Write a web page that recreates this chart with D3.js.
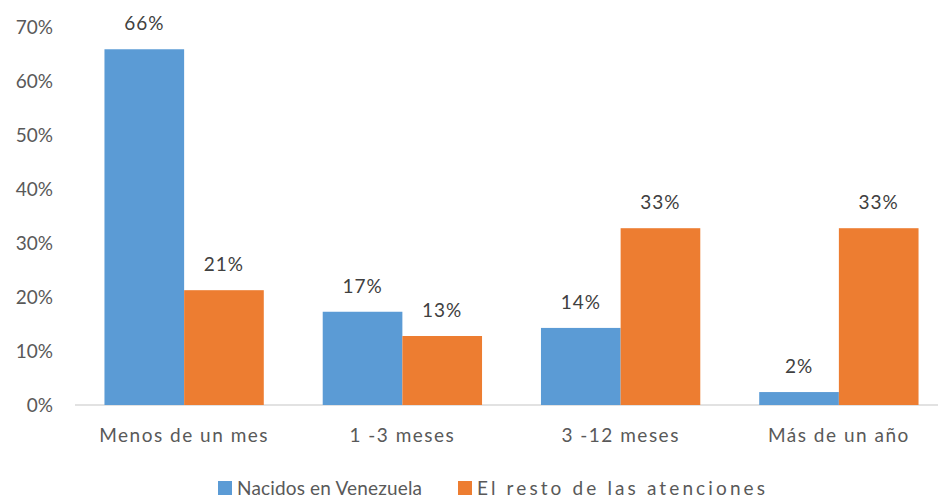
<!DOCTYPE html>
<html><head><meta charset="utf-8">
<script src="https://cdn.jsdelivr.net/npm/d3@7"></script>
<style>body{margin:0;background:#fff}svg{display:block}text{font-family:Lato,"Open Sans",sans-serif;fill:#595959}</style>
</head><body><svg id="c" width="938" height="500"></svg>
<script>
const categories = ["Menos de un mes", "1 -3 meses", "3 -12 meses", "Más de un año"];
const seriesNames = ["Nacidos en Venezuela", "El resto de las atenciones"];
const venezuela = [66, 17.3, 14.3, 2.4];
const resto = [21.3, 12.8, 32.8, 32.8];
const yTicks = [0, 10, 20, 30, 40, 50, 60, 70];
const colors = ["#5B9BD5", "#ED7D31"];

const svg = d3.select("#c");
const x0 = d3.scaleBand().domain(categories).range([75, 948]).paddingInner(0.27).paddingOuter(0.135);
const x1 = d3.scaleBand().domain([0, 1]).range([0, x0.bandwidth()]);
const y = d3.scaleLinear().domain([0, 70]).range([405, 27.7]);

// y tick labels
svg.append("g").selectAll("text").data(yTicks).join("text")
  .attr("x", 53).attr("y", d => y(d)).attr("dy", "0.35em")
  .attr("text-anchor", "end").style("font-size", "19px")
  .text(d => d + "%");

// baseline
svg.append("line").attr("x1", 75).attr("x2", 948).attr("y1", y(0)).attr("y2", y(0))
  .attr("stroke", "#d9d9d9").attr("stroke-width", 1.5);

const data = categories.map((c, i) => ({c, vals: [venezuela[i], resto[i]]}));
const g = svg.append("g").selectAll("g").data(data).join("g")
  .attr("transform", d => `translate(${x0(d.c)},0)`);
g.selectAll("rect").data(d => d.vals.map((v, k) => ({v, k}))).join("rect")
  .attr("x", d => x1(d.k)).attr("width", x1.bandwidth())
  .attr("y", d => y(d.v)).attr("height", d => y(0) - y(d.v))
  .attr("fill", d => colors[d.k]);
g.selectAll("text").data(d => d.vals.map((v, k) => ({v, k}))).join("text")
  .attr("x", d => x1(d.k) + x1.bandwidth() / 2).attr("y", d => y(d.v) - 19)
  .attr("text-anchor", "middle").style("font-size", "19px").style("letter-spacing", "1px")
  .style("fill", "#404040")
  .text(d => Math.round(d.v) + "%");

// category labels
svg.append("g").selectAll("text").data(categories).join("text")
  .attr("x", d => x0(d) + x0.bandwidth() / 2).attr("y", 442)
  .attr("text-anchor", "middle").style("font-size", "19px").style("letter-spacing", "1.5px")
  .text(d => d);

// legend
const legX = [218, 458];
const legW = [185, 288];
const leg = svg.append("g").selectAll("g").data(seriesNames).join("g")
  .attr("transform", (d, i) => `translate(${legX[i]},488)`);
leg.append("rect").attr("x", 0).attr("y", -7).attr("width", 14).attr("height", 14)
  .attr("fill", (d, i) => colors[i]);
leg.append("text").attr("x", 19).attr("y", 0).attr("dy", "0.35em")
  .attr("textLength", (d, i) => legW[i]).attr("lengthAdjust", "spacing")
  .style("font-size", "19px").text(d => d);
</script></body></html>
